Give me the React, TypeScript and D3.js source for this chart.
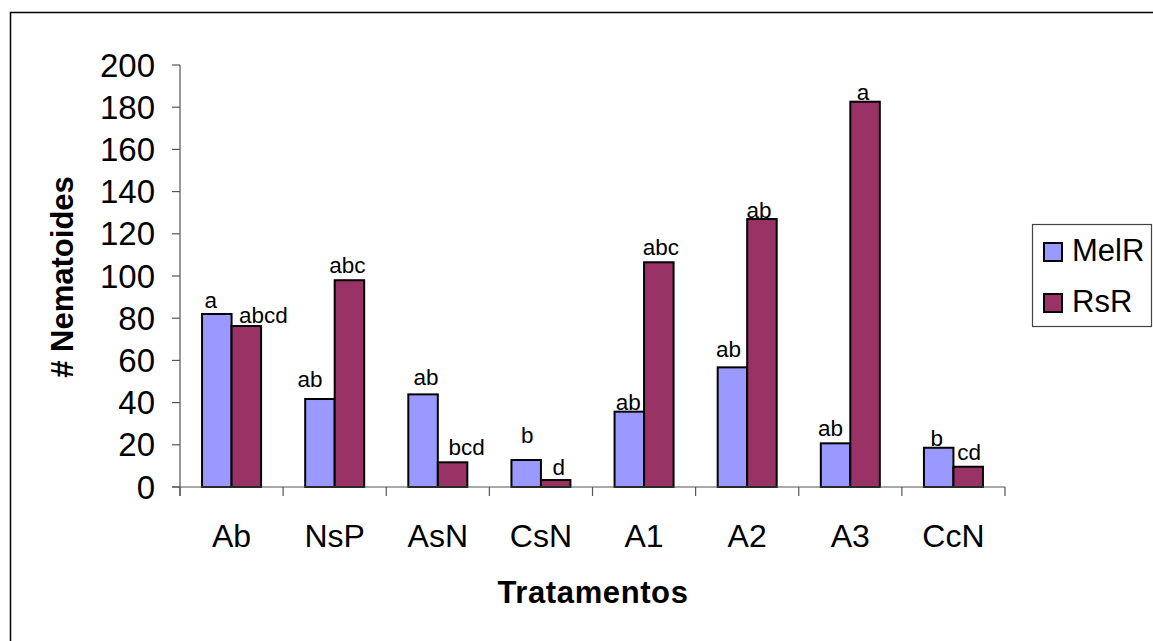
import React from "react";
import * as d3 from "d3";

const categories = ["Ab", "NsP", "AsN", "CsN", "A1", "A2", "A3", "CcN"];
const seriesNames = ["MelR", "RsR"];
const melR = [82, 41.7, 43.9, 12.8, 35.7, 56.7, 20.7, 18.6];
const rsR = [76.3, 98, 11.7, 3.3, 106.5, 127, 182.6, 9.6];
const melRLetters = ["a", "ab", "ab", "b", "ab", "ab", "ab", "b"];
const rsRLetters = ["abcd", "abc", "bcd", "d", "abc", "ab", "a", "cd"];
const yTicks = [0, 20, 40, 60, 80, 100, 120, 140, 160, 180, 200];

// label placement offsets (layout, px) relative to bar top-center
const melROffsets = [[-6, -6], [-10, -12], [3, -9], [1, -17], [-1, -2], [-4, -10], [-5, -7], [-2, -2]];
const rsROffsets = [[17, -3], [-2, -7], [14, -7], [3, -5], [2, -7], [-3, -1], [-2, -2], [1, -7]];

const W = 1153;
const H = 641;
const FONT = "'Liberation Sans', Arial, Helvetica, sans-serif";
const COLORS = ["#9999FF", "#993366"];

export default function App() {
  const x = d3.scaleBand<string>().domain(categories).range([180, 1005]).padding(0);
  const y = d3.scaleLinear().domain([0, 200]).range([487, 65]);
  const groupW = 59;
  const sub = d3
    .scaleBand<string>()
    .domain(seriesNames)
    .range([(x.bandwidth() - groupW) / 2, (x.bandwidth() + groupW) / 2])
    .padding(0);
  const series = [melR, rsR];
  const letters = [melRLetters, rsRLetters];
  const offsets = [melROffsets, rsROffsets];
  const boundaries = categories.map((c) => x(c)!).concat([x.range()[1]]);

  return (
    <svg
      width={W}
      height={H}
      style={{ position: "absolute", left: 0, top: 0, background: "#fff" }}
      fontFamily={FONT}
    >
      <rect x={0} y={0} width={W} height={H} fill="#fff" />
      <rect x={10.5} y={12.5} width={1300} height={800} fill="none" stroke="#000" strokeWidth={1.5} />

      {/* bars */}
      {series.map((vals, si) =>
        vals.map((v, i) => {
          const bx = x(categories[i])! + sub(seriesNames[si])!;
          const by = y(v);
          return (
            <rect
              key={`b${si}-${i}`}
              x={bx}
              y={by}
              width={sub.bandwidth()}
              height={y(0) - by}
              fill={COLORS[si]}
              stroke="#000"
              strokeWidth={2}
            />
          );
        })
      )}

      {/* axes */}
      <line x1={180} x2={180} y1={65} y2={496} stroke="#555" strokeWidth={1.2} />
      <line x1={172} x2={1005} y1={487} y2={487} stroke="#555" strokeWidth={1.2} />
      {yTicks.map((t) => (
        <g key={`yt${t}`}>
          <line x1={172} x2={180} y1={y(t)} y2={y(t)} stroke="#555" strokeWidth={1.2} />
          <text x={155} y={y(t) + 11.5} textAnchor="end" fontSize={33} fill="#000">
            {t}
          </text>
        </g>
      ))}
      {boundaries.map((bx, i) => (
        <line key={`xt${i}`} x1={bx} x2={bx} y1={487} y2={496} stroke="#555" strokeWidth={1.2} />
      ))}
      {categories.map((c) => (
        <text key={`xl${c}`} x={x(c)! + x.bandwidth() / 2} y={547} textAnchor="middle" fontSize={32} fill="#000">
          {c}
        </text>
      ))}

      {/* significance letters */}
      {series.map((vals, si) =>
        vals.map((v, i) => {
          const cx = x(categories[i])! + sub(seriesNames[si])! + sub.bandwidth() / 2;
          const [dx, dy] = offsets[si][i];
          return (
            <text
              key={`l${si}-${i}`}
              x={cx + dx}
              y={y(v) + dy}
              textAnchor="middle"
              fontSize={22.5}
              fill="#000"
            >
              {letters[si][i]}
            </text>
          );
        })
      )}

      {/* axis titles */}
      <text
        x={593}
        y={603}
        textAnchor="middle"
        fontSize={31}
        fontWeight="bold"
        letterSpacing={0.6}
        fill="#000"
      >
        Tratamentos
      </text>
      <text
        transform={`translate(73,277) rotate(-90)`}
        textAnchor="middle"
        fontSize={31}
        fontWeight="bold"
        fill="#000"
      >
        # Nematoides
      </text>

      {/* legend */}
      <rect x={1032.5} y={224.5} width={119} height={102} fill="#fff" stroke="#444" strokeWidth={1.2} />
      {seriesNames.map((n, i) => (
        <g key={`lg${n}`}>
          <rect x={1044} y={243 + i * 51} width={18} height={18} fill={COLORS[i]} stroke="#000" strokeWidth={2} />
          <text x={1072} y={261 + i * 51} fontSize={31} fill="#000">
            {n}
          </text>
        </g>
      ))}
    </svg>
  );
}
